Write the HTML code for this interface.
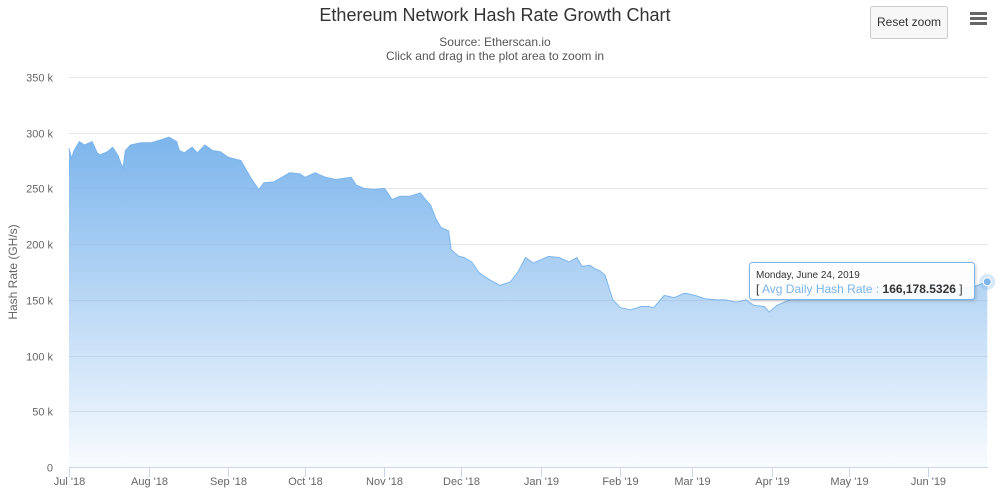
<!DOCTYPE html>
<html><head><meta charset="utf-8"><style>
body{margin:0;background:#fff;font-family:"Liberation Sans",sans-serif;}
svg text{font-family:"Liberation Sans",sans-serif;}
</style></head><body>
<svg id="chart" width="1000" height="492">
<defs><linearGradient id="g" x1="0" y1="0" x2="0" y2="1">
<stop offset="0" stop-color="#7cb5ec" stop-opacity="1"/><stop offset="1" stop-color="#7cb5ec" stop-opacity="0.05"/></linearGradient>
<filter id="sh" x="-10%" y="-20%" width="120%" height="160%"><feDropShadow dx="1" dy="1" stdDeviation="1.5" flood-opacity="0.2"/></filter></defs>
<text x="495" y="21" text-anchor="middle" font-size="18" fill="#333">Ethereum Network Hash Rate Growth Chart</text>
<text x="495" y="46" text-anchor="middle" font-size="12" fill="#555">Source: Etherscan.io</text>
<text x="495" y="60" text-anchor="middle" font-size="12" fill="#555">Click and drag in the plot area to zoom in</text>
<g><rect x="870.5" y="6.5" width="77" height="32" rx="2" fill="#f7f7f7" stroke="#ccc"/><text x="909" y="26" text-anchor="middle" font-size="12" fill="#333">Reset zoom</text></g>
<g fill="#666"><rect x="970" y="12" width="17" height="3"/><rect x="970" y="17" width="17" height="3"/><rect x="970" y="22" width="17" height="3"/></g>
<g id="grid"></g><g id="series"></g><g id="axes"></g>
<text transform="translate(17,272) rotate(-90)" text-anchor="middle" font-size="12" fill="#666">Hash Rate (GH/s)</text>
<g>
<rect x="749.5" y="262.5" width="225" height="37" rx="3" fill="#fff" fill-opacity="0.9" stroke="#7cb5ec" filter="url(#sh)"/>
<text x="756" y="278" font-size="10" fill="#333">Monday, June 24, 2019</text>
<text x="756" y="293" font-size="12" fill="#333">[ <tspan fill="#7cb5ec">Avg Daily Hash Rate : </tspan><tspan font-weight="bold">166,178.5326</tspan> ]</text>
</g>
</svg>
<script>
const days=[0,1,2,4,6,9,11,12,15,17,19,21,22,24,28,32,35,39,42,43,45,48,50,53,56,59,62,67,71,74,76,80,83,86,90,92,96,100,104,110,112,115,119,123,126,129,133,137,139,141,143,145,148,149,152,154,157,160,164,168,172,175,178,181,184,187,191,195,198,200,203,205,207,209,212,215,219,223,226,228,232,236,240,244,248,252,256,260,264,267,271,273,276,281,285,293,301,308,316,324,332,340,347,353,358];
const values=[286,277,284,292,289,292,282,280,283,287,280,268,284,289,291,291,293,296,292,284,282,287,282,289,284,283,278,275,259,249,255,256,260,264,263,260,264,260,258,260,253,250,249,250,240,243,243,246,240,235,223,215,212,195,189,188,184,174,168,163,166,175,188,183,186,189,188,184,188,180,181,178,176,172,150,143,141,144,144,143,154,152,156,154,151,150,150,148,150,145,144,139,145,150,152,157,159,160,161,160,161,162,160,162,166.18];
const yTicks=[0,50,100,150,200,250,300,350];
const xLabels=["Jul '18","Aug '18","Sep '18","Oct '18","Nov '18","Dec '18","Jan '19","Feb '19","Mar '19","Apr '19","May '19","Jun '19"];
const xTickDays=[0,31,62,92,123,153,184,215,243,274,304,335];
const X=d=>69+d*2.565, Y=v=>467-v/350*390;
const NS="http://www.w3.org/2000/svg";
function mk(t,a,p){const e=document.createElementNS(NS,t);for(const k in a)e.setAttribute(k,a[k]);p.appendChild(e);return e;}
const grid=document.getElementById('grid'),axes=document.getElementById('axes'),ser=document.getElementById('series');
yTicks.forEach(v=>{const y=Math.round(Y(v))+0.5;
const l=mk('line',{x1:69,x2:988,y1:y,y2:y,stroke:'#e6e6e6'},grid);


const t=mk('text',{x:53,y:y+4,'text-anchor':'end','font-size':11,fill:'#666'},axes);t.textContent=v===0?'0':v+' k';

});
const ax=mk('line',{x1:69,x2:988,y1:467.5,y2:467.5,stroke:'#ccd6eb'},axes);


xLabels.forEach((s,i)=>{const x=Math.round(X(xTickDays[i]))+0.5;
const tk=mk('line',{x1:x,x2:x,y1:467,y2:477,stroke:'#ccd6eb'},axes);


const t=mk('text',{x:x,y:485,'text-anchor':'middle','font-size':11,fill:'#666'},axes);t.textContent=s;

});
let d='';days.forEach((dd,i)=>{d+=(i?'L':'M')+X(dd).toFixed(1)+','+Y(values[i]).toFixed(1);});
const area=mk('path',{d:d+'L'+X(days[days.length-1])+','+Y(0)+'L'+X(0)+','+Y(0)+'Z',fill:'url(#g)'},ser);


const line=mk('path',{d:d,fill:'none',stroke:'#7cb5ec','stroke-width':1},ser);


const n=days.length-1;
const h=mk('circle',{cx:X(days[n]),cy:Y(values[n]),r:8,fill:'#7cb5ec','fill-opacity':0.3},ser);


const p=mk('circle',{cx:X(days[n]),cy:Y(values[n]),r:4,fill:'#7cb5ec',stroke:'#fff'},ser);


</script>
</body></html>
